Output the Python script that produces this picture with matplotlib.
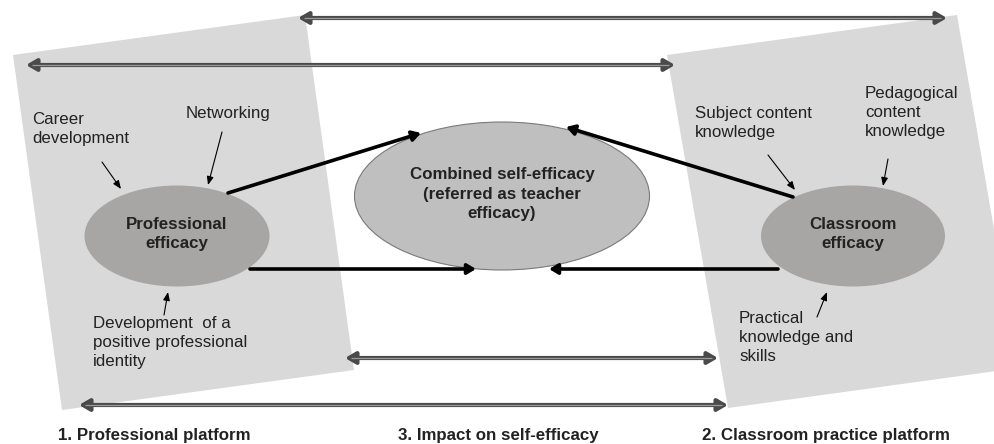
import matplotlib
matplotlib.use("Agg")
from matplotlib import pyplot as plt
from matplotlib.patches import Polygon, Ellipse

plt.rcParams['font.family'] = ['Liberation Sans', 'DejaVu Sans']

# labels of the diagram
node_labels = ["Professional\nefficacy",
               "Combined self-efficacy\n(referred as teacher\nefficacy)",
               "Classroom\nefficacy"]
factor_labels = ["Career\ndevelopment",
                 "Networking",
                 "Development  of a\npositive professional\nidentity",
                 "Subject content\nknowledge",
                 "Pedagogical\ncontent\nknowledge",
                 "Practical\nknowledge and\nskills"]
platform_labels = ["1. Professional platform",
                   "3. Impact on self-efficacy",
                   "2. Classroom practice platform"]

# layout (pixel space of the picture)
node_xy = [(177, 236), (502, 196), (853, 236)]
node_wh = [(185, 101), (295, 148), (184, 101)]
factor_xy = [(32, 112), (186, 106), (93, 316), (695, 106), (865, 86), (739, 311)]
factor_arrows = [((102, 162), (121, 189)), ((222, 132), (208, 185)),
                 ((164, 315), (168, 292)), ((768, 155), (795, 190)),
                 ((888, 159), (883, 186)), ((817, 317), (827, 292))]
platform_x = [58, 398, 702]
left_panel = [(13, 55), (305, 15), (354, 370), (62, 410)]
right_panel = [(667, 55), (957, 15), (1018, 368), (728, 408)]
thick_arrows = [((228, 193), (421, 133)), ((793, 197), (566, 127)),
                ((250, 269), (476, 269)), ((778, 269), (549, 269))]
double_arrows = [(298, 947, 18), (26, 675, 65), (345, 718, 358), (79, 728, 405)]

fig = plt.figure(figsize=(9.95, 4.44), dpi=100)
ax = fig.add_axes([0, 0, 1, 1])
ax.set_xlim(0, 995)
ax.set_ylim(444, 0)
ax.axis('off')

txt = '#222222'

# grey platforms
for pts in [left_panel, right_panel]:
    ax.add_patch(Polygon(pts, closed=True, fc='#d9d9d9', ec='none', zorder=1))

# efficacy ellipses
for i, ((x, y), (w, h)) in enumerate(zip(node_xy, node_wh)):
    if i == 1:
        e = Ellipse((x, y), w, h, fc='#bfbfbf', ec='#7a7a7a', lw=0.8, zorder=2)
    else:
        e = Ellipse((x, y), w, h, fc='#a8a5a5', ec='none', zorder=2)
    ax.add_patch(e)
    ax.text(x, y - 2, node_labels[i], ha='center', va='center', fontsize=12.2,
            fontweight='bold', color=txt, linespacing=1.38, zorder=5)

# factor texts and small arrows
for lab, (x, y) in zip(factor_labels, factor_xy):
    ax.text(x, y, lab, ha='left', va='top', fontsize=12.2, color=txt,
            linespacing=1.35, zorder=5)
for a, b in factor_arrows:
    ax.annotate('', xy=b, xytext=a, zorder=4,
                arrowprops=dict(arrowstyle='-|>,head_length=0.5,head_width=0.2',
                                color='black', lw=0.8, shrinkA=0, shrinkB=0,
                                mutation_scale=10))

# thick arrows into combined efficacy
for a, b in thick_arrows:
    ax.annotate('', xy=b, xytext=a, zorder=4,
                arrowprops=dict(arrowstyle='-|>,head_length=0.5,head_width=0.3',
                                color='black', lw=2.6, shrinkA=0, shrinkB=0,
                                mutation_scale=10))

# double headed grey arrows
for x0, x1, y in double_arrows:
    ax.annotate('', xy=(x1, y), xytext=(x0, y), zorder=6,
                arrowprops=dict(arrowstyle='<|-|>,head_length=0.6,head_width=0.35',
                                color='#4a4a4a', lw=3.0, shrinkA=0, shrinkB=0,
                                mutation_scale=10))
    ax.plot([x0 + 6, x1 - 6], [y, y], color='#9a9a9a', lw=0.9, zorder=7,
            solid_capstyle='butt')

# platform titles
for lab, x in zip(platform_labels, platform_x):
    ax.text(x, 440, lab, ha='left', va='baseline', fontsize=12.2,
            fontweight='bold', color=txt)

fig.savefig('out.png', dpi=100)
